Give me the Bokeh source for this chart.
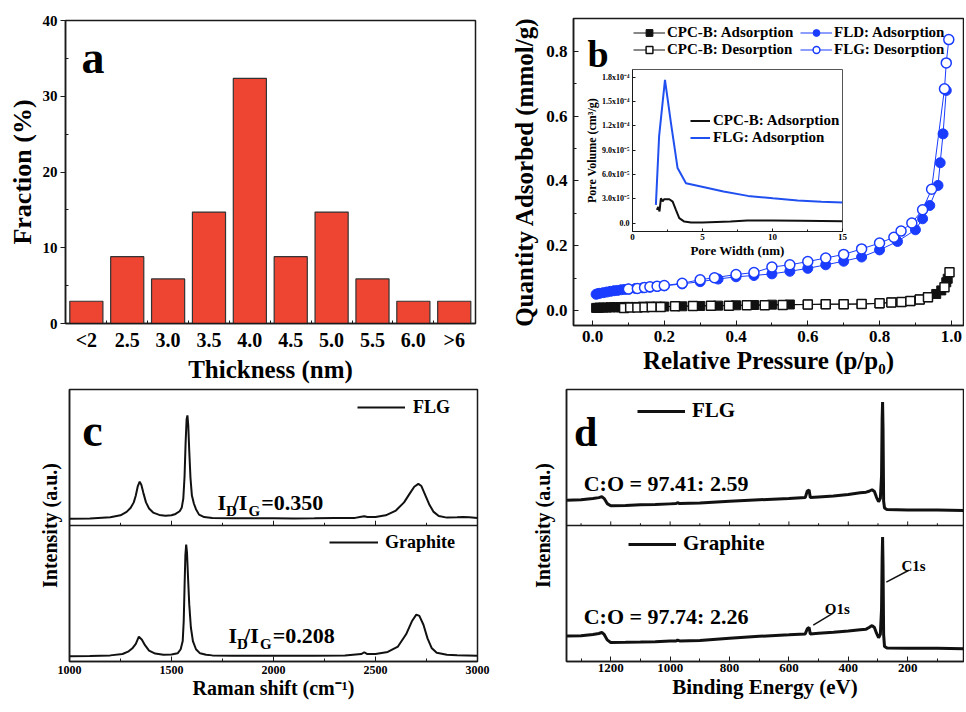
from bokeh.plotting import figure
from bokeh.models import Range1d, FixedTicker, Label, Legend, LegendItem, Span, GridBox, PrintfTickFormatter
from bokeh.layouts import row, column
from bokeh.embed import file_html
from bokeh.resources import INLINE

FONT = "Liberation Serif"

# ---------------- (a) thickness histogram ----------------
thickness_labels = ["<2", "2.5", "3.0", "3.5", "4.0", "4.5", "5.0", "5.5", "6.0", ">6"]
thickness_fraction = [2.94, 8.82, 5.88, 14.71, 32.35, 8.82, 14.71, 5.88, 2.94, 2.94]
frac_ticks = [0, 10, 20, 30, 40]

# ---------------- (b) N2 isotherms ----------------
cpcb_ads_p = [0.01, 0.015, 0.02, 0.03, 0.04, 0.05, 0.06, 0.07, 0.08, 0.09, 0.10, 0.12, 0.14, 0.16, 0.18, 0.20,
              0.25, 0.30, 0.35, 0.40, 0.45, 0.50, 0.55, 0.60, 0.65, 0.70, 0.75, 0.80, 0.833, 0.861, 0.886,
              0.912, 0.935, 0.958, 0.972, 0.986, 0.99]
cpcb_ads_q = [0.008, 0.008, 0.009, 0.009, 0.009, 0.010, 0.010, 0.010, 0.010, 0.011, 0.011, 0.011, 0.012, 0.012,
              0.012, 0.012, 0.013, 0.014, 0.015, 0.016, 0.017, 0.018, 0.0185, 0.0185, 0.0195, 0.0195, 0.020,
              0.022, 0.025, 0.026, 0.029, 0.034, 0.041, 0.051, 0.062, 0.087, 0.098]
cpcb_des_p = [0.088, 0.105, 0.125, 0.145, 0.165, 0.19, 0.23, 0.28, 0.33, 0.38, 0.43, 0.48, 0.53, 0.60, 0.65,
              0.70, 0.75, 0.80, 0.833, 0.861, 0.886, 0.912, 0.935, 0.981, 0.995]
cpcb_des_q = [0.008, 0.009, 0.0095, 0.010, 0.0105, 0.011, 0.013, 0.014, 0.015, 0.015, 0.016, 0.016, 0.017,
              0.0185, 0.0195, 0.0195, 0.020, 0.022, 0.025, 0.026, 0.029, 0.034, 0.041, 0.072, 0.118]
flg_ads_p = [0.01, 0.015, 0.02, 0.03, 0.04, 0.05, 0.06, 0.07, 0.08, 0.09, 0.10, 0.12, 0.14, 0.16, 0.18, 0.20,
             0.25, 0.30, 0.35, 0.40, 0.45, 0.50, 0.55, 0.60, 0.65, 0.70, 0.75, 0.80, 0.85, 0.90, 0.92, 0.94,
             0.963, 0.969, 0.977, 0.986]
flg_ads_q = [0.050, 0.052, 0.053, 0.055, 0.057, 0.059, 0.061, 0.062, 0.064, 0.065, 0.066, 0.068, 0.070, 0.072,
             0.074, 0.076, 0.082, 0.089, 0.097, 0.104, 0.108, 0.113, 0.121, 0.130, 0.141, 0.152, 0.165, 0.187,
             0.213, 0.249, 0.283, 0.324, 0.386, 0.456, 0.545, 0.679]
flg_des_p = [0.10, 0.125, 0.145, 0.16, 0.18, 0.20, 0.25, 0.30, 0.34, 0.40, 0.45, 0.50, 0.55, 0.60, 0.65, 0.70,
             0.75, 0.80, 0.84, 0.86, 0.89, 0.92, 0.945, 0.981, 0.986, 0.993]
flg_des_q = [0.066, 0.068, 0.071, 0.073, 0.075, 0.077, 0.084, 0.095, 0.101, 0.111, 0.117, 0.134, 0.141, 0.151,
             0.162, 0.173, 0.190, 0.208, 0.226, 0.245, 0.270, 0.311, 0.374, 0.684, 0.764, 0.836]
p_ticks = [0.0, 0.2, 0.4, 0.6, 0.8, 1.0]
q_ticks = [0.0, 0.2, 0.4, 0.6, 0.8]

# inset: pore size distribution
pore_w_flg = [1.67, 1.9, 2.32, 2.75, 3.22, 3.82, 5.13, 6.5, 8.24, 10.03, 11.8, 13.5, 15.0]
pore_v_flg = [2.26e-5, 1.07e-4, 1.767e-4, 1.23e-4, 6.8e-5, 4.93e-5, 4.44e-5, 3.9e-5, 3.37e-5, 3.08e-5,
              2.8e-5, 2.65e-5, 2.55e-5]
pore_w_cpcb = [1.74, 1.84, 1.93, 2.03, 2.15, 2.27, 2.63, 2.87, 3.10, 3.34, 3.70, 4.18, 5.0, 7.0, 8.2, 10.0,
               12.0, 15.0]
pore_v_cpcb = [1.64e-5, 2.0e-5, 1.45e-5, 3.08e-5, 2.7e-5, 2.96e-5, 2.96e-5, 2.67e-5, 1.64e-5, 6.2e-6, 2.0e-6,
               0.8e-6, 1.0e-6, 2.0e-6, 3.3e-6, 3.3e-6, 3.0e-6, 2.5e-6]
inset_x_ticks = [0, 5, 10, 15]
inset_y_ticks = [0.0, 3e-5, 6e-5, 9e-5, 1.2e-4, 1.5e-4, 1.8e-4]
inset_y_labels = ["0.0", "3.0x10⁻⁵", "6.0x10⁻⁵", "9.0x10⁻⁵", "1.2x10⁻⁴", "1.5x10⁻⁴", "1.8x10⁻⁴"]

# ---------------- (c) Raman ----------------
raman_flg_x = [1000, 1100, 1200, 1250, 1280, 1300, 1315, 1325, 1335, 1344, 1352, 1362, 1375, 1390, 1410, 1440,
               1470, 1500, 1520, 1540, 1550, 1558, 1564, 1569, 1574, 1578, 1582, 1587, 1593, 1600, 1610, 1620,
               1635, 1660, 1700, 1800, 1900, 2000, 2100, 2200, 2300, 2400, 2430, 2445, 2460, 2500, 2550, 2600,
               2640, 2670, 2690, 2710, 2725, 2745, 2765, 2785, 2810, 2850, 2900, 2930, 2960, 3000]
raman_flg_y = [0.049, 0.052, 0.060, 0.075, 0.100, 0.130, 0.170, 0.220, 0.290, 0.322, 0.300, 0.240, 0.170, 0.125,
               0.095, 0.078, 0.072, 0.075, 0.085, 0.105, 0.13, 0.2, 0.36, 0.6, 0.78, 0.81, 0.74, 0.55, 0.35,
               0.22, 0.16, 0.12, 0.08, 0.062, 0.056, 0.054, 0.053, 0.053, 0.052, 0.053, 0.055, 0.056, 0.064,
               0.068, 0.062, 0.063, 0.075, 0.11, 0.17, 0.24, 0.285, 0.306, 0.29, 0.22, 0.15, 0.10, 0.07, 0.058,
               0.06, 0.063, 0.06, 0.055]
raman_gra_x = [1000, 1100, 1200, 1260, 1290, 1310, 1325, 1340, 1355, 1370, 1390, 1420, 1460, 1500, 1530, 1545,
               1555, 1560, 1564, 1568, 1572, 1576, 1581, 1587, 1595, 1605, 1620, 1640, 1670, 1700, 1800, 2000,
               2200, 2350, 2430, 2445, 2460, 2500, 2560, 2610, 2650, 2680, 2700, 2715, 2735, 2755, 2775, 2800,
               2850, 2900, 3000]
raman_gra_y = [0.039, 0.041, 0.045, 0.055, 0.075, 0.100, 0.130, 0.183, 0.160, 0.120, 0.080, 0.058, 0.050, 0.052,
               0.060, 0.09, 0.15, 0.3, 0.55, 0.78, 0.86, 0.80, 0.62, 0.42, 0.25, 0.15, 0.09, 0.06, 0.05, 0.045,
               0.043, 0.042, 0.043, 0.045, 0.055, 0.068, 0.055, 0.055, 0.07, 0.11, 0.2, 0.3, 0.345, 0.335, 0.27,
               0.17, 0.10, 0.065, 0.05, 0.046, 0.043]
raman_ticks = [1000, 1500, 2000, 2500, 3000]
raman_minor = [1250, 1750, 2250, 2750]

# ---------------- (d) XPS ----------------
xps_x = [1349, 1300, 1260, 1240, 1230, 1222, 1212, 1200, 1150, 1100, 1050, 1000, 980, 975, 968, 900, 800, 700,
         600, 545, 538, 532, 528, 500, 450, 400, 360, 340, 330, 320, 312, 305, 298, 292, 288, 286, 284.5, 283,
         281, 278, 270, 200, 100, 12]
xps_flg_y = [0.186, 0.189, 0.198, 0.205, 0.212, 0.198, 0.161, 0.145, 0.147, 0.152, 0.154, 0.159, 0.161, 0.168,
             0.161, 0.166, 0.179, 0.189, 0.198, 0.205, 0.254, 0.261, 0.206, 0.210, 0.217, 0.228, 0.240, 0.245,
             0.252, 0.263, 0.250, 0.207, 0.175, 0.200, 0.366, 0.786, 0.907, 0.716, 0.180, 0.128, 0.117, 0.114,
             0.114, 0.110]
xps_gra_y = [0.187, 0.189, 0.199, 0.206, 0.213, 0.199, 0.159, 0.140, 0.141, 0.143, 0.146, 0.150, 0.151, 0.157,
             0.151, 0.155, 0.171, 0.185, 0.196, 0.203, 0.241, 0.250, 0.203, 0.208, 0.215, 0.224, 0.234, 0.238,
             0.250, 0.264, 0.250, 0.208, 0.175, 0.200, 0.386, 0.759, 0.916, 0.713, 0.199, 0.110, 0.100, 0.098,
             0.098, 0.093]
xps_ticks = [1200, 1000, 800, 600, 400, 200]
xps_minor = [1300, 1100, 900, 700, 500, 300, 100]

BLUE = "#1a3cff"
BLACK = "#111111"
FRAME = "#1a1a1a"


def make_fig(w, h, xr, yr, left, right, top, bottom):
    p = figure(width=w, height=h, x_range=xr, y_range=yr, output_backend="svg", toolbar_location=None,
               min_border_left=left, min_border_right=right, min_border_top=top, min_border_bottom=bottom)
    p.xgrid.visible = False
    p.ygrid.visible = False
    p.outline_line_color = FRAME
    p.outline_line_width = 1.5
    p.background_fill_color = "white"
    p.border_fill_color = "white"
    return p


def style_axis(ax, label_size, tick_size, major_in=5, major_out=0, minor_in=3, minor_out=0,
               label_standoff=3, title_standoff=2):
    ax.axis_label_text_font = FONT
    ax.axis_label_text_font_style = "bold"
    ax.axis_label_text_font_size = f"{label_size}px"
    ax.axis_label_text_color = "black"
    ax.major_label_text_font = FONT
    ax.major_label_text_font_style = "bold"
    ax.major_label_text_font_size = f"{tick_size}px"
    ax.major_label_text_color = "black"
    ax.major_tick_in = major_in
    ax.major_tick_out = major_out
    ax.minor_tick_in = minor_in
    ax.minor_tick_out = minor_out
    ax.major_tick_line_color = FRAME
    ax.minor_tick_line_color = FRAME
    ax.axis_line_color = FRAME
    ax.axis_line_width = 1.5
    ax.major_label_standoff = label_standoff
    ax.axis_label_standoff = title_standoff


def add_text(p, x, y, text, size, align="left"):
    p.add_layout(Label(x=x, y=y, text=text, text_font=FONT, text_font_style="bold",
                       text_font_size=f"{size}px", text_color="black", text_align=align,
                       text_baseline="alphabetic"))


def make_legend(items, x, y, size, glyph_w, row_h, standoff, label_w=20):
    lg = Legend(items=items, location=(x, y), border_line_color=None, background_fill_alpha=0,
                padding=0, margin=0, spacing=0, glyph_width=glyph_w, glyph_height=row_h,
                label_height=row_h, label_width=label_w, label_standoff=standoff,
                label_text_font=FONT, label_text_font_style="bold", label_text_font_size=f"{size}px",
                label_text_color="black")
    return lg


TOP_H = 387
BOT_H = 323
LEFT_W = 492
RIGHT_W = 472

# ======================= panel a =======================
xa = list(range(1, len(thickness_labels) + 1))
pa = make_fig(LEFT_W, TOP_H, Range1d(0.49, 10.52), Range1d(0, 40), 65, 17, 20, 64)
pa.vbar(x=xa, top=thickness_fraction, width=0.81, fill_color="#ee4532", line_color="#333333", line_width=1.2)
pa.xaxis.ticker = FixedTicker(ticks=xa, minor_ticks=[i + 0.5 for i in xa[:-1]])
pa.xaxis.major_label_overrides = {i: lab for i, lab in zip(xa, thickness_labels)}
pa.yaxis.ticker = FixedTicker(ticks=frac_ticks, minor_ticks=[t + 5 for t in frac_ticks[:-1]])
pa.xaxis.axis_label = "Thickness (nm)"
pa.yaxis.axis_label = "Fraction (%)"
style_axis(pa.xaxis[0], 25, 20, major_in=0, major_out=0, minor_in=3, label_standoff=5, title_standoff=2)
style_axis(pa.yaxis[0], 26, 15, major_in=0, major_out=5, minor_in=3, label_standoff=3, title_standoff=3)
add_text(pa, 0.88, 35.1, "a", 46)

# ======================= panel b =======================
pb = make_fig(RIGHT_W, TOP_H, Range1d(-0.053, 1.034), Range1d(-0.0463, 0.901), 81, 1, 18, 62)
pb.frame_align = False
r1l = pb.line(cpcb_ads_p, cpcb_ads_q, line_color=BLACK, line_width=1)
r1s = pb.scatter(cpcb_ads_p, cpcb_ads_q, marker="square", size=9, fill_color=BLACK, line_color=BLACK)
r2l = pb.line(cpcb_des_p, cpcb_des_q, line_color=BLACK, line_width=1)
r2s = pb.scatter(cpcb_des_p, cpcb_des_q, marker="square", size=9, fill_color="white", line_color=BLACK,
                 line_width=1.5)
r3l = pb.line(flg_ads_p, flg_ads_q, line_color=BLUE, line_width=1)
r3s = pb.scatter(flg_ads_p, flg_ads_q, marker="circle", size=10, fill_color=BLUE, line_color=BLUE)
r4l = pb.line(flg_des_p, flg_des_q, line_color=BLUE, line_width=1)
r4s = pb.scatter(flg_des_p, flg_des_q, marker="circle", size=10, fill_color="white", line_color=BLUE,
                 line_width=1.5)
pb.xaxis.ticker = FixedTicker(ticks=p_ticks, minor_ticks=[0.1, 0.3, 0.5, 0.7, 0.9])
pb.yaxis.ticker = FixedTicker(ticks=q_ticks, minor_ticks=[0.1, 0.3, 0.5, 0.7])
pb.xaxis.formatter = PrintfTickFormatter(format="%.1f")
pb.yaxis.formatter = PrintfTickFormatter(format="%.1f")
pb.xaxis.axis_label = "Relative Pressure (p/p₀)"
pb.yaxis.axis_label = "Quantity Adsorbed (mmol/g)"
style_axis(pb.xaxis[0], 25, 17, label_standoff=5, title_standoff=2)
style_axis(pb.yaxis[0], 25, 17, label_standoff=6, title_standoff=5)
leg_b1 = make_legend([LegendItem(label="CPC-B: Adsorption", renderers=[r1l, r1s]),
                      LegendItem(label="CPC-B: Desorption", renderers=[r2l, r2s])],
                     60, 267, 15, 32, 17, 2)
leg_b2 = make_legend([LegendItem(label="FLD: Adsorption", renderers=[r3l, r3s]),
                      LegendItem(label="FLG: Desorption", renderers=[r4l, r4s])],
                     227, 267, 15, 32, 17, 2)
pb.add_layout(leg_b1)
pb.add_layout(leg_b2)
add_text(pb, -0.014, 0.792, "b", 38)

# inset (same size as panel b, overlaid; its frame sits where the inset is)
pin = make_fig(RIGHT_W, TOP_H, Range1d(0, 15), Range1d(-1.02e-5, 1.895e-4), 140, 122, 69, 156)
pin.frame_align = False
pin.border_fill_color = None
pin.outline_line_width = 1
pin.outline_line_color = "#555555"
i1 = pin.line(pore_w_cpcb, pore_v_cpcb, line_color=BLACK, line_width=2)
i2 = pin.line(pore_w_flg, pore_v_flg, line_color="#2050f0", line_width=2)
pin.xaxis.ticker = FixedTicker(ticks=inset_x_ticks, minor_ticks=[2.5, 7.5, 12.5])
pin.yaxis.ticker = FixedTicker(ticks=inset_y_ticks)
pin.yaxis.major_label_overrides = {t: lab for t, lab in zip(inset_y_ticks, inset_y_labels)}
pin.xaxis.axis_label = "Pore Width (nm)"
pin.yaxis.axis_label = "Pore Volume (cm³/g)"
style_axis(pin.xaxis[0], 13, 9, major_in=3, minor_in=2, label_standoff=2, title_standoff=0)
style_axis(pin.yaxis[0], 12, 8, major_in=3, minor_in=2, label_standoff=3, title_standoff=0)
pin.xaxis.axis_line_width = 1
pin.yaxis.axis_line_width = 1
leg_in = make_legend([LegendItem(label="CPC-B: Adsorption", renderers=[i1]),
                      LegendItem(label="FLG: Adsorption", renderers=[i2])],
                     58, 85, 15, 20, 17, 3)
pin.add_layout(leg_in)

grid_b = GridBox(children=[(pb, 0, 0), (pin, 0, 0)])

# ======================= panel c =======================
pc = make_fig(LEFT_W, BOT_H, Range1d(1000, 3000), Range1d(0, 2), 69, 15, 2, 49)
c1 = pc.line(raman_flg_x, [v + 1 for v in raman_flg_y], line_color=BLACK, line_width=2)
c2 = pc.line(raman_gra_x, raman_gra_y, line_color=BLACK, line_width=2)
pc.add_layout(Span(location=1.0, dimension="width", line_color=FRAME, line_width=1.5))
pc.segment(x0=raman_ticks[1:-1], y0=[1.0] * 3, x1=raman_ticks[1:-1], y1=[1.035] * 3, line_color=FRAME)
pc.segment(x0=raman_minor, y0=[1.0] * 4, x1=raman_minor, y1=[1.02] * 4, line_color=FRAME)
pc.xaxis.ticker = FixedTicker(ticks=raman_ticks, minor_ticks=raman_minor)
pc.yaxis.ticker = FixedTicker(ticks=[])
pc.xaxis.axis_label = "Raman shift (cm⁻¹)"
pc.yaxis.axis_label = "Intensity (a.u.)"
style_axis(pc.xaxis[0], 20, 12, label_standoff=4, title_standoff=0)
style_axis(pc.yaxis[0], 20, 12, major_in=0, minor_in=0, label_standoff=0, title_standoff=9)
pc.add_layout(make_legend([LegendItem(label="FLG", renderers=[c1])], 288, 243, 18, 48, 22, 8))
pc.add_layout(make_legend([LegendItem(label="Graphite", renderers=[c2])], 260, 108, 18, 49, 22, 7))
add_text(pc, 1062, 1.699, "c", 46)
# I_D/I_G = 0.350  (upper)
add_text(pc, 1726, 1.167, "I", 22)
add_text(pc, 1767, 1.105, "D", 15)
add_text(pc, 1800, 1.167, "/I", 22)
add_text(pc, 1878, 1.105, "G", 15)
add_text(pc, 1940, 1.167, "=0.350", 22)
# I_D/I_G = 0.208  (lower)
add_text(pc, 1780, 0.191, "I", 22)
add_text(pc, 1821, 0.130, "D", 15)
add_text(pc, 1856, 0.191, "/I", 22)
add_text(pc, 1934, 0.130, "G", 15)
add_text(pc, 1996, 0.191, "=0.208", 22)

# ======================= panel d =======================
pd_top, pd_bot = 2, 45
frame_h_d = BOT_H - pd_top - pd_bot
pdd = make_fig(RIGHT_W, BOT_H, Range1d(1349, 12), Range1d(0, 2), 74, 1, pd_top, pd_bot)
d1 = pdd.line(xps_x, [v + 1 for v in xps_flg_y], line_color=BLACK, line_width=3)
d2 = pdd.line(xps_x, xps_gra_y, line_color=BLACK, line_width=3)
pdd.add_layout(Span(location=1.0, dimension="width", line_color=FRAME, line_width=1.5))
pdd.segment(x0=xps_ticks, y0=[1.0] * 6, x1=xps_ticks, y1=[1.03] * 6, line_color=FRAME)
pdd.segment(x0=xps_minor, y0=[1.0] * 7, x1=xps_minor, y1=[1.017] * 7, line_color=FRAME)
pdd.xaxis.ticker = FixedTicker(ticks=xps_ticks, minor_ticks=xps_minor)
pdd.yaxis.ticker = FixedTicker(ticks=[])
pdd.xaxis.axis_label = "Binding Energy (eV)"
pdd.yaxis.axis_label = "Intensity (a.u.)"
style_axis(pdd.xaxis[0], 21, 13, label_standoff=2, title_standoff=0)
style_axis(pdd.yaxis[0], 20, 13, major_in=0, minor_in=0, label_standoff=0, title_standoff=13)
half = frame_h_d / 2.0
pdd.add_layout(make_legend([LegendItem(label="FLG", renderers=[d1])], 71, int(1.813 * half - 12), 21, 48, 24, 7))
pdd.add_layout(make_legend([LegendItem(label="Graphite", renderers=[d2])], 62, int(0.855 * half - 12), 21, 48, 24, 7))
add_text(pdd, 1324, 1.69, "d", 42)
add_text(pdd, 1291, 1.306, "C:O = 97.41: 2.59", 22)
add_text(pdd, 1291, 0.333, "C:O = 97.74: 2.26", 22)
add_text(pdd, 479, 0.389, "O1s", 15)
add_text(pdd, 221, 0.699, "C1s", 15)
pdd.segment(x0=[518, 272], y0=[0.268, 0.583], x1=[451, 196], y1=[0.356, 0.671], line_color=BLACK, line_width=1.5)

layout = column(row(pa, grid_b), row(pc, pdd))
open("out.html", "w").write(file_html(layout, INLINE))
